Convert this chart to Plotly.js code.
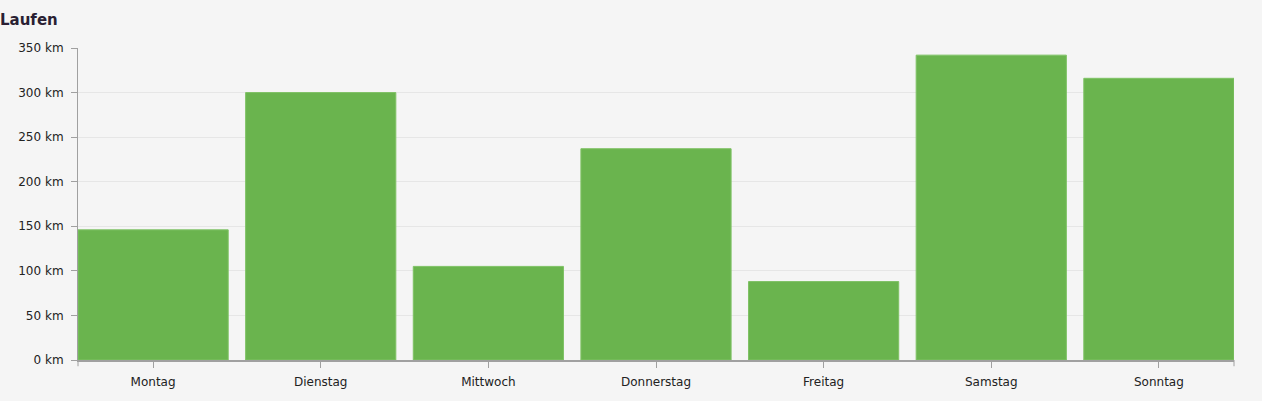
<!DOCTYPE html>
<html>
<head>
<meta charset="utf-8">
<script src="https://cdn.plot.ly/plotly-3.0.1.min.js"></script>
<style>
html,body{margin:0;padding:0;background:#f5f5f5;}
#chart{width:1262px;height:401px;}
</style>
</head>
<body>
<div id="chart"></div>
<script>
const categories = ["Montag","Dienstag","Mittwoch","Donnerstag","Freitag","Samstag","Sonntag"];
const distanceKm = [146, 300, 105, 237, 88, 342, 316];
const yTickValues = [0, 50, 100, 150, 200, 250, 300, 350];
const yTickLabels = ["0 km", "50 km", "100 km", "150 km", "200 km", "250 km", "300 km", "350 km"];

const trace = {
  type: "bar",
  x: categories,
  y: distanceKm,
  marker: {color: "#6ab44e", line: {color: "#7fc265", width: 1}},
  hoverinfo: "x+y"
};

const layout = {
  width: 1262,
  height: 401,
  paper_bgcolor: "#f5f5f5",
  plot_bgcolor: "#f5f5f5",
  margin: {l: 78, r: 28, t: 48, b: 41},
  bargap: 0.104,
  showlegend: false,
  font: {family: "DejaVu Sans, Verdana, sans-serif", size: 12, color: "#222"},
  title: {
    text: "<b>Laufen</b>",
    x: 0, xref: "container", xanchor: "left",
    y: 0.95, yref: "container", yanchor: "middle",
    font: {family: "DejaVu Sans, Verdana, sans-serif", size: 15, color: "#2a1f33"},
    pad: {l: 0}
  },
  xaxis: {
    type: "category",
    range: [-0.448, 6.448],
    showline: true, linecolor: "#a0a0a0", linewidth: 2,
    ticks: "outside", ticklen: 6, tickcolor: "#a0a0a0", tickwidth: 1,
    ticklabelstandoff: 4,
    showgrid: false, zeroline: false,
    tickfont: {size: 12, color: "#222"}
  },
  yaxis: {
    range: [0, 350],
    tickmode: "array",
    tickvals: yTickValues,
    ticktext: yTickLabels,
    showline: true, linecolor: "#a0a0a0", linewidth: 1,
    ticks: "outside", ticklen: 6, tickcolor: "#a0a0a0",
    ticklabelstandoff: 5,
    showgrid: true, gridcolor: "#e6e6e6", gridwidth: 1,
    zeroline: false,
    tickfont: {size: 12, color: "#222"}
  },
  shapes: [
    {type: "line", xref: "paper", yref: "paper", x0: 0, x1: 0, y0: 0, y1: -0.02, line: {color: "#a0a0a0", width: 1}},
    {type: "line", xref: "paper", yref: "paper", x0: 1, x1: 1, y0: 0, y1: -0.02, line: {color: "#a0a0a0", width: 1}}
  ]
};

Plotly.newPlot("chart", [trace], layout, {displayModeBar: false, staticPlot: true});
</script>
</body>
</html>
